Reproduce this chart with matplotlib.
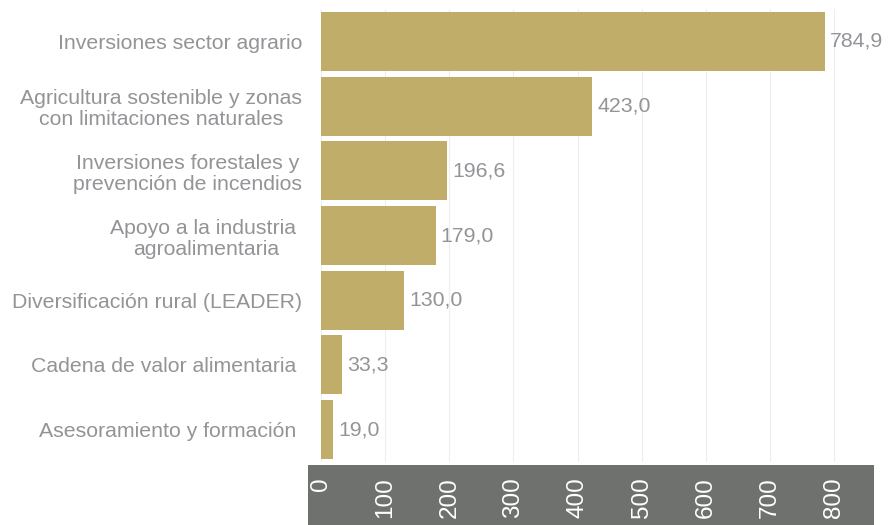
import matplotlib
matplotlib.use("Agg")
import matplotlib.pyplot as plt
from matplotlib.patches import Rectangle

categories = [
    "Inversiones sector agrario",
    "Agricultura sostenible y zonas\ncon limitaciones naturales",
    "Inversiones forestales y\nprevención de incendios",
    "Apoyo a la industria \nagroalimentaria",
    "Diversificación rural (LEADER)",
    "Cadena de valor alimentaria ",
    "Asesoramiento y formación ",
]
values = [784.9, 423.0, 196.6, 179.0, 130.0, 33.3, 19.0]
value_labels = ["784,9", "423,0", "196,6", "179,0", "130,0", "33,3", "19,0"]
xticks = [0, 100, 200, 300, 400, 500, 600, 700, 800]

BAR = "#BFAD69"
BAND = "#6E716D"
TXT = "#929497"
FS = 15.3

plt.rcParams["font.family"] = ["Liberation Sans", "DejaVu Sans"]

W, H = 888, 525
fig = plt.figure(figsize=(W / 100, H / 100), dpi=100)
left, right, top, bottom = 321, 874, 9, 462
ax = fig.add_axes([left / W, 1 - bottom / H, (right - left) / W, (bottom - top) / H])
ax.set_zorder(2)
ax.patch.set_alpha(0)

# dark band behind x tick labels
fig.patches.append(Rectangle((308 / W, 0), (874 - 308) / W, (525 - 465) / H,
                             transform=fig.transFigure, facecolor=BAND,
                             edgecolor="none", zorder=0))

y = list(range(len(categories)))
ax.barh(y, values, height=0.91, color=BAR, zorder=2)
for yi, v, lab in zip(y, values, value_labels):
    ax.annotate(lab, (v, yi), xytext=(3.5, 0), textcoords="offset points",
                ha="left", va="center", color=TXT, fontsize=FS)

ax.set_ylim(len(categories) - 0.5, -0.5)
ax.set_xlim(0, 862)
ax.set_yticks(y)
ax.set_yticklabels(categories, fontsize=FS, color=TXT)
for t in ax.get_yticklabels():
    t.set_multialignment("center")
    t.set_linespacing(1.15)
ax.set_xticks(xticks)
ax.set_xticklabels([str(t) for t in xticks], rotation=90, color="white", fontsize=17.5)
ax.tick_params(axis="y", length=0, pad=13.5)
ax.tick_params(axis="x", length=0, pad=11)
ax.grid(axis="x", color="#EEEEEE", linewidth=0.8, zorder=0)
ax.set_axisbelow(True)
for s in ax.spines.values():
    s.set_visible(False)

fig.savefig("out.png", dpi=100)
